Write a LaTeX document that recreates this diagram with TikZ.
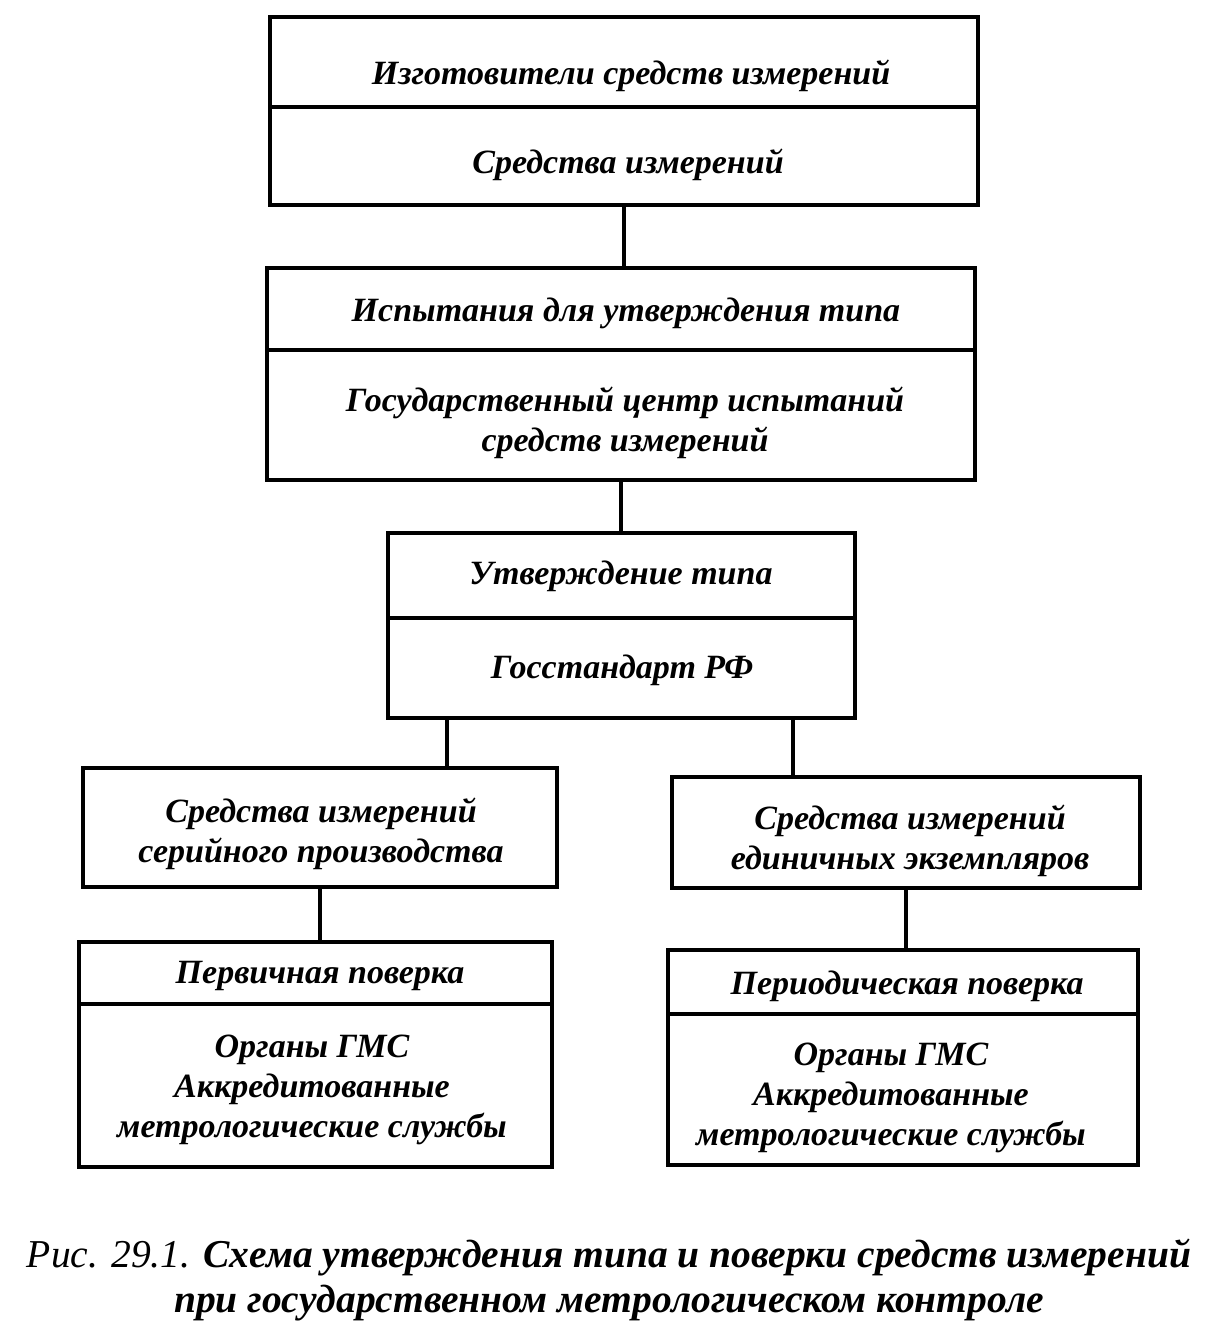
\documentclass[tikz,border=0pt]{standalone}
\usepackage{fontspec}
\setmainfont{Liberation Serif}
\begin{document}
\begin{tikzpicture}[x=1pt,y=-1pt,
  box/.style={draw, line width=3.8pt, anchor=north west, inner sep=0pt, outer sep=0pt},
  lbl/.style={align=center, inner sep=0pt, font=\fontsize{34}{40}\selectfont\bfseries\itshape},
  conn/.style={line width=3.8pt}]
\useasboundingbox (0,0) rectangle (1220,1340);
% top box
\node[box, minimum width=708pt, minimum height=90pt] (b1a) at (270,17) {};
\node[box, minimum width=708pt, minimum height=98pt] (b1b) at (270,107) {};
% second box
\node[box, minimum width=708pt, minimum height=82pt] (b2a) at (267,268) {};
\node[box, minimum width=708pt, minimum height=130pt] (b2b) at (267,350) {};
% third box
\node[box, minimum width=467pt, minimum height=85pt] (b3a) at (388,533) {};
\node[box, minimum width=467pt, minimum height=100pt] (b3b) at (388,618) {};
% fourth row
\node[box, minimum width=474pt, minimum height=119pt] (b4l) at (83,768) {};
\node[box, minimum width=468pt, minimum height=111pt] (b4r) at (672,777) {};
% fifth row
\node[box, minimum width=473pt, minimum height=62pt] (b5la) at (79,942) {};
\node[box, minimum width=473pt, minimum height=163pt] (b5lb) at (79,1004) {};
\node[box, minimum width=470pt, minimum height=64pt] (b5ra) at (668,950) {};
\node[box, minimum width=470pt, minimum height=151pt] (b5rb) at (668,1014) {};
% texts
\node[lbl] (t1) at (631,76) {Изготовители средств измерений};
\node[lbl] (t2) at (628,165) {Средства измерений};
\node[lbl] (t3) at (626,313) {Испытания для утверждения типа};
\node[lbl] (t4) at (625,423) {Государственный центр испытаний\\средств измерений};
\node[lbl] (t5) at (621,576) {Утверждение типа};
\node[lbl] (t6) at (622,670) {Госстандарт РФ};
\node[lbl] (t7) at (321,834) {Средства измерений\\серийного производства};
\node[lbl] (t8) at (910,841) {Средства измерений\\единичных экземпляров};
\node[lbl] (t9) at (320,976) {Первичная поверка};
\node[lbl] (t10) at (312,1090) {Органы ГМС\\Аккредитованные\\метрологические службы};
\node[lbl] (t11) at (907,986) {Периодическая поверка};
\node[lbl] (t12) at (891,1098) {Органы ГМС\\Аккредитованные\\метрологические службы};
% connectors
\draw[conn] (b1b.south) -- (b1b.south |- b2a.north);
\draw[conn] (b2b.south) -- (b2b.south |- b3a.north);
\coordinate (s3l) at ([xshift=59pt]b3b.south west);
\coordinate (s3r) at ([xshift=-62pt]b3b.south east);
\draw[conn] (s3l) -- (s3l |- b4l.north);
\draw[conn] (s3r) -- (s3r |- b4r.north);
\draw[conn] (b4l.south) -- (b4l.south |- b5la.north);
\draw[conn] (b4r.south) -- (b4r.south |- b5ra.north);
% caption
\node[font=\fontsize{39.5}{45}\selectfont, align=center, inner sep=0pt] (cap) at (609,1280)
  {\itshape Рис. 29.1. \bfseries Схема утверждения типа и поверки средств измерений\\
   \bfseries\itshape при государственном метрологическом контроле};
\end{tikzpicture}
\end{document}
